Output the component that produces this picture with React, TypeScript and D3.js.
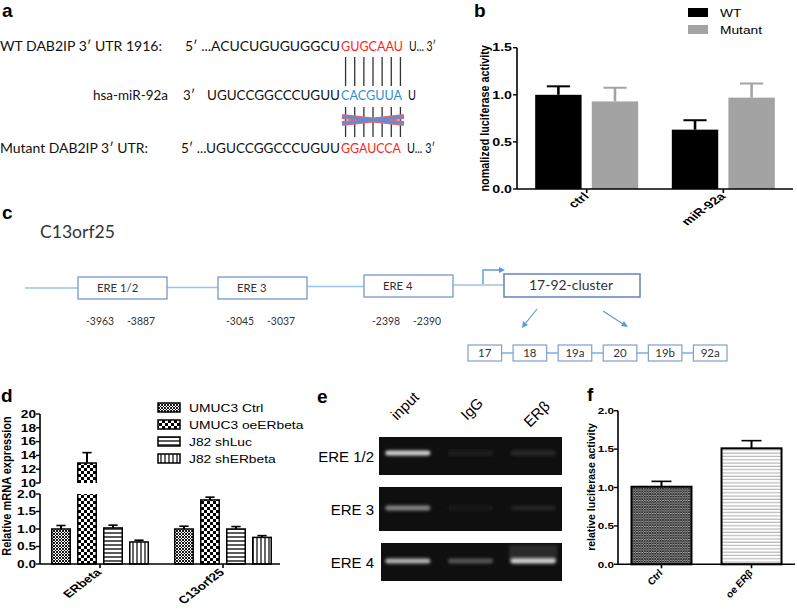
import React from 'react';
import * as d3 from 'd3';

const W = 797, H = 612;
const ARIAL = "'Liberation Sans', Arial, sans-serif";
const CAL = "Lato, 'Open Sans', sans-serif";

// ---------- Panel a data ----------
const wtLabel = 'WT DAB2IP 3′ UTR 1916:';
const mirLabel = 'hsa-miR-92a';
const mutLabel = 'Mutant DAB2IP 3′ UTR:';
const wtSeq = ['5′ ...ACUCUGUGUGGCU', 'GUGCAAU', 'U... 3′'];
const mirPrime = '3′';
const mirSeq = ['UGUCCGGCCCUGUU', 'CACGUUA', 'U'];
const mutSeq = ['5′ ...UGUCCGGCCCUGUU', 'GGAUCCA', 'U... 3′'];

// ---------- Panel b data ----------
const bCategories = ['ctrl', 'miR-92a'];
const bSeries = ['WT', 'Mutant'];
const bWT = [1.0, 0.63];
const bWTErr = [0.09, 0.1];
const bMutant = [0.93, 0.97];
const bMutantErr = [0.145, 0.15];
const bTicks = [0, 0.5, 1.0, 1.5];
const bYLabel = 'nomalized luciferase activity';

// ---------- Panel c data ----------
const cGene = 'C13orf25';
const ereBoxes = ['ERE 1/2', 'ERE 3', 'ERE 4'];
const erePositions = [['-3963', '-3887'], ['-3045', '-3037'], ['-2398', '-2390']];
const clusterName = '17-92-cluster';
const clusterMembers = ['17', '18', '19a', '20', '19b', '92a'];

// ---------- Panel d data ----------
const dCategories = ['ERbeta', 'C13orf25'];
const dSeries = ['UMUC3 Ctrl', 'UMUC3 oeERbeta', 'J82 shLuc', 'J82 shERbeta'];
const dUmucCtrl = [1.0, 1.0];
const dUmucCtrlErr = [0.1, 0.08];
const dUmucOe = [12.9, 1.83];
const dUmucOeErr = [1.5, 0.08];
const dJ82ShLuc = [1.03, 1.0];
const dJ82ShLucErr = [0.08, 0.07];
const dJ82ShER = [0.63, 0.76];
const dJ82ShERErr = [0.05, 0.05];
const dTicksLow = [0, 0.5, 1.0, 1.5, 2.0];
const dTicksHigh = [10, 12, 14, 16, 18, 20];
const dYLabel = 'Relative mRNA expression';

// ---------- Panel e data ----------
const gelRows = ['ERE 1/2', 'ERE 3', 'ERE 4'];
const gelLanes = ['input', 'IgG', 'ERβ'];
const gelIntensity = [
  [0.85, 0.035, 0.1],
  [0.5, 0.01, 0.05],
  [0.72, 0.28, 0.85],
];

// ---------- Panel f data ----------
const fCategories = ['Ctrl', 'oe ERβ'];
const fValues = [1.01, 1.51];
const fErr = [0.07, 0.1];
const fTicks = [0, 0.5, 1.0, 1.5, 2.0];
const fYLabel = 'relative luciferase activity';

function PText(props: any) {
  const { x, y, sx = 1, rot = 0, anchor = 'start', size = 10, weight = 'bold', style = 'normal', fill = '#000', dy, family = ARIAL, children } = props;
  return (
    <text
      transform={`translate(${x},${y}) scale(${sx},1) rotate(${rot})`}
      textAnchor={anchor}
      fontSize={size}
      fontWeight={weight}
      fontStyle={style}
      fill={fill}
      dy={dy}
      fontFamily={family}
    >
      {children}
    </text>
  );
}

function FitText(props: any) {
  const { x, y, w, size, fill = '#111', family = CAL, weight = 'normal', children } = props;
  return (
    <text x={x} y={y} textLength={w} lengthAdjust="spacingAndGlyphs" fontSize={size} fill={fill} fontFamily={family} fontWeight={weight}>
      {children}
    </text>
  );
}

function SeqLine({ y, segs }: any) {
  return (
    <text y={y} fontSize={14} fontFamily={CAL} fill="#111">
      {segs.map((s: any, i: number) => (
        <tspan key={i} x={s.x} textLength={s.w} lengthAdjust="spacingAndGlyphs" fill={s.fill || '#111'} fontSize={s.size || 14}>{s.t}</tspan>
      ))}
    </text>
  );
}

function PanelLetter({ x, y, t }: any) {
  return <text x={x} y={y} fontSize={19} fontWeight="bold" fontFamily={ARIAL}>{t}</text>;
}

function PanelA() {
  const seedX = 341, seedW = 64;
  const red = '#ff1f1f', blue = '#2f8fd8';
  const n = wtSeq[1].length;
  const lineXs = d3.range(n).map((i) => seedX + (i + 0.5) * (seedW / n));
  return (
    <g>
      <PanelLetter x={2} y={17} t="a" />
      <FitText x={0} y={51} w={162} size={14}>{wtLabel}</FitText>
      <SeqLine y={51} segs={[
        { x: 185, w: seedX - 186, t: wtSeq[0] },
        { x: seedX, w: seedW - 2, t: wtSeq[1], fill: red },
        { x: seedX + seedW + 4, w: 27, t: wtSeq[2] },
      ]} />

      {lineXs.map((lx, i) => (
        <line key={'u' + i} x1={lx} x2={lx} y1={57} y2={86} stroke="#333" strokeWidth={1.3} />
      ))}

      <FitText x={93} y={100} w={75} size={14}>{mirLabel}</FitText>
      <SeqLine y={100} segs={[
        { x: 183, w: 12, t: mirPrime },
        { x: 207, w: seedX - 208, t: mirSeq[0] },
        { x: seedX, w: seedW - 3, t: mirSeq[1], fill: blue },
        { x: seedX + seedW + 3, w: 8, t: mirSeq[2] },
      ]} />

      {lineXs.map((lx, i) => (
        <line key={'l' + i} x1={lx} x2={lx} y1={107} y2={137} stroke="#333" strokeWidth={1.3} />
      ))}
      <g>
        <line x1={seedX + 1} y1={116.5} x2={seedX + seedW - 1} y2={123.5} stroke="#e06878" strokeWidth={5} />
        <line x1={seedX + 1} y1={123.5} x2={seedX + seedW - 1} y2={116.5} stroke="#e06878" strokeWidth={5} />
        <line x1={seedX + 1} y1={116.5} x2={seedX + seedW - 1} y2={123.5} stroke="#5b8fd2" strokeWidth={2.6} />
        <line x1={seedX + 1} y1={123.5} x2={seedX + seedW - 1} y2={116.5} stroke="#5b8fd2" strokeWidth={2.6} />
      </g>

      <FitText x={0} y={153} w={148} size={14}>{mutLabel}</FitText>
      <SeqLine y={153} segs={[
        { x: 181, w: seedX - 182, t: mutSeq[0] },
        { x: seedX, w: seedW - 4, t: mutSeq[1], fill: red },
        { x: seedX + seedW + 2, w: 28, t: mutSeq[2] },
      ]} />
    </g>
  );
}

function PanelB() {
  const left = 517, right = 793, top = 47.7, bottom = 189;
  const sx = 1.35;
  const y = d3.scaleLinear().domain([0, 1.5]).range([bottom, top]);
  const x0 = d3.scalePoint<string>().domain(bCategories).range([left, right]).padding(0.51);
  const x1 = d3.scaleBand<string>().domain(bSeries).range([-51.5, 51.5]).paddingInner(0.18);
  const vals = [bWT, bMutant];
  const errs = [bWTErr, bMutantErr];
  const colors = ['#000000', '#a3a3a3'];
  const bw = x1.bandwidth();
  return (
    <g>
      <PanelLetter x={474} y={17} t="b" />
      {bSeries.map((s, i) => (
        <g key={s}>
          <rect x={688} y={8 + i * 17} width={20} height={9} fill={colors[i]} />
          <PText x={720} y={17 + i * 17} sx={1.25} size={11} weight="normal">{s}</PText>
        </g>
      ))}
      {bCategories.map((c, ci) =>
        bSeries.map((s, si) => {
          const cx = (x0(c) as number) + (x1(s) as number);
          const v = vals[si][ci];
          const e = errs[si][ci];
          const mid = cx + bw / 2;
          return (
            <g key={c + s}>
              <rect x={cx} y={y(v)} width={bw} height={bottom - y(v)} fill={colors[si]} />
              <line x1={mid} x2={mid} y1={y(v)} y2={y(v + e)} stroke={colors[si]} strokeWidth={2.6} />
              <line x1={mid - bw / 4} x2={mid + bw / 4} y1={y(v + e)} y2={y(v + e)} stroke={colors[si]} strokeWidth={2} />
            </g>
          );
        })
      )}
      <line x1={left} x2={left} y1={top} y2={bottom} stroke="#000" strokeWidth={1.6} />
      <line x1={left} x2={right} y1={bottom} y2={bottom} stroke="#000" strokeWidth={1.6} />
      {bTicks.map((t) => (
        <g key={t}>
          <line x1={left - 4} x2={left} y1={y(t)} y2={y(t)} stroke="#000" strokeWidth={1.4} />
          <PText x={left - 5} y={y(t)} dy="0.36em" anchor="end" sx={sx} size={10.5}>{t.toFixed(1)}</PText>
        </g>
      ))}
      {bCategories.map((c) => (
        <g key={c}>
          <line x1={x0(c)} x2={x0(c)} y1={bottom} y2={bottom + 4} stroke="#000" strokeWidth={1.6} />
          <PText x={(x0(c) as number) + 3} y={bottom + 8} anchor="end" rot={-45} sx={sx} size={10.5}>{c}</PText>
        </g>
      ))}
      <PText x={489} y={(top + bottom) / 2} anchor="middle" rot={-90} sx={1.15} size={10.8}>{bYLabel}</PText>
    </g>
  );
}

function PanelC() {
  const lineC = '#9dc3e6';
  const boxC = '#7f9fd0';
  const arrowC = '#5b9bd5';
  const boxX = [78, 218, 364];
  const boxY = [277, 277, 275];
  const boxW = 89, boxH = 22;
  const cl = { x: 504, y: 274, w: 136, h: 23 };
  const sub = d3.scaleBand<string>().domain(clusterMembers).range([468, 727]).paddingInner(0.255);
  const subY = 345, subH = 16;
  return (
    <g fontFamily={CAL}>
      <PanelLetter x={2} y={219} t="c" />
      <FitText x={40} y={238} w={75} size={17} fill="#333">{cGene}</FitText>
      <line x1={25} x2={boxX[0]} y1={boxY[0] + boxH / 2} y2={boxY[0] + boxH / 2} stroke={lineC} strokeWidth={1.5} />
      {ereBoxes.map((b, i) => {
        const nx = i < ereBoxes.length - 1 ? boxX[i + 1] : cl.x;
        const ny = i < ereBoxes.length - 1 ? boxY[i + 1] : cl.y;
        const yy = (boxY[i] + ny) / 2 + boxH / 2 - 0.5;
        return (
          <g key={b}>
            <line x1={boxX[i] + boxW} x2={nx} y1={yy} y2={yy} stroke={lineC} strokeWidth={1.5} />
            <rect x={boxX[i]} y={boxY[i]} width={boxW} height={boxH} fill="#fff" stroke={boxC} strokeWidth={1.4} />
            <FitText x={boxX[i] + 19} y={boxY[i] + 15} w={b.length * 5.9} size={11} fill="#333">{b}</FitText>
            <FitText x={boxX[i] + 8} y={325} w={28} size={11} fill="#333">{erePositions[i][0]}</FitText>
            <FitText x={boxX[i] + 49} y={325} w={28} size={11} fill="#333">{erePositions[i][1]}</FitText>
          </g>
        );
      })}
      <path d={`M483,284 V270 H500`} fill="none" stroke={arrowC} strokeWidth={1.4} />
      <path d="M499,267 L505,270 L499,273 Z" fill={arrowC} />
      <rect x={cl.x} y={cl.y} width={cl.w} height={cl.h} fill="#fff" stroke="#6a8cc0" strokeWidth={1.6} />
      <FitText x={529} y={cl.y + 16} w={84} size={14} fill="#333">{clusterName}</FitText>
      <line x1={537} y1={309} x2={525} y2={324} stroke={arrowC} strokeWidth={1.2} />
      <path d="M522,328 L523,321 L528,325 Z" fill={arrowC} />
      <line x1={603} y1={311} x2={623} y2={324} stroke={arrowC} strokeWidth={1.2} />
      <path d="M628,327 L621,326 L624,321 Z" fill={arrowC} />
      {clusterMembers.map((m, i) => {
        const xx = sub(m) as number;
        const next = i < clusterMembers.length - 1 ? (sub(clusterMembers[i + 1]) as number) : null;
        return (
          <g key={m}>
            {next !== null && (
              <line x1={xx + sub.bandwidth()} x2={next} y1={subY + subH / 2} y2={subY + subH / 2} stroke={arrowC} strokeWidth={1.2} />
            )}
            <rect x={xx} y={subY} width={sub.bandwidth()} height={subH} fill="#fff" stroke={boxC} strokeWidth={1.2} />
            <text x={xx + sub.bandwidth() / 2} y={subY + 12} textAnchor="middle" fontSize={11.5} fill="#333">{m}</text>
          </g>
        );
      })}
    </g>
  );
}

function PanelD() {
  const left = 40, right = 280, bottom = 564;
  const sx = 1.3;
  const yLow = d3.scaleLinear().domain([0, 2]).range([bottom, 494]);
  const yHigh = d3.scaleLinear().domain([10, 20]).range([483, 414]);
  const x0 = d3.scalePoint<string>().domain(dCategories).range([left, 283]).padding(0.488);
  const x1 = d3.scaleBand<string>().domain(dSeries).range([-48.25, 48.25]).paddingInner(0.29);
  const bw = x1.bandwidth();
  const vals = [dUmucCtrl, dUmucOe, dJ82ShLuc, dJ82ShER];
  const errs = [dUmucCtrlErr, dUmucOeErr, dJ82ShLucErr, dJ82ShERErr];
  const pats = ['url(#pCtrl)', 'url(#pOe)', 'url(#pH)', 'url(#pV)'];
  return (
    <g>
      <PanelLetter x={1} y={402} t="d" />
      {dSeries.map((s, i) => (
        <g key={s}>
          <rect x={158} y={403 + i * 17} width={22} height={9} fill={pats[i]} stroke="#000" strokeWidth={1.5} />
          <PText x={189} y={412 + i * 17} sx={1.28} size={10.8} weight="normal">{s}</PText>
        </g>
      ))}
      {dCategories.map((c, ci) =>
        dSeries.map((s, si) => {
          const bx = (x0(c) as number) + (x1(s) as number);
          const v = vals[si][ci];
          const e = errs[si][ci];
          const mid = bx + bw / 2;
          if (v <= 2) {
            return (
              <g key={c + s}>
                <line x1={mid} x2={mid} y1={yLow(v)} y2={yLow(v + e)} stroke="#000" strokeWidth={2} />
                <line x1={mid - bw / 4} x2={mid + bw / 4} y1={yLow(v + e)} y2={yLow(v + e)} stroke="#000" strokeWidth={1.6} />
                <rect x={bx} y={yLow(v)} width={bw} height={bottom - yLow(v)} fill={pats[si]} stroke="#000" strokeWidth={1.5} />
              </g>
            );
          }
          return (
            <g key={c + s}>
              <line x1={mid} x2={mid} y1={yHigh(v)} y2={yHigh(v + e)} stroke="#000" strokeWidth={2} />
              <line x1={mid - bw / 4} x2={mid + bw / 4} y1={yHigh(v + e)} y2={yHigh(v + e)} stroke="#000" strokeWidth={1.6} />
              <rect x={bx} y={yLow(2)} width={bw} height={bottom - yLow(2)} fill={pats[si]} />
              <path d={`M${bx},${yLow(2)} V${bottom} H${bx + bw} V${yLow(2)}`} fill="none" stroke="#000" strokeWidth={1.5} />
              <rect x={bx} y={yHigh(v)} width={bw} height={yHigh(10) - yHigh(v)} fill={pats[si]} />
              <path d={`M${bx},${yHigh(10)} V${yHigh(v)} H${bx + bw} V${yHigh(10)}`} fill="none" stroke="#000" strokeWidth={1.5} />
            </g>
          );
        })
      )}
      <line x1={left} x2={left} y1={yHigh(20)} y2={yHigh(10)} stroke="#000" strokeWidth={1.6} />
      <line x1={left} x2={left} y1={yLow(2)} y2={bottom} stroke="#000" strokeWidth={1.6} />
      <line x1={left} x2={right} y1={bottom} y2={bottom} stroke="#000" strokeWidth={1.6} />
      {dTicksHigh.map((t) => (
        <g key={'h' + t}>
          <line x1={left - 4} x2={left} y1={yHigh(t)} y2={yHigh(t)} stroke="#000" strokeWidth={1.4} />
          <PText x={left - 4} y={yHigh(t)} dy="0.36em" anchor="end" sx={sx} size={10.5}>{String(t)}</PText>
        </g>
      ))}
      {dTicksLow.map((t) => (
        <g key={'l' + t}>
          <line x1={left - 4} x2={left} y1={yLow(t)} y2={yLow(t)} stroke="#000" strokeWidth={1.4} />
          <PText x={left - 4} y={yLow(t)} dy="0.36em" anchor="end" sx={sx} size={10.5}>{t.toFixed(1)}</PText>
        </g>
      ))}
      {dCategories.map((c) => (
        <g key={c}>
          <line x1={x0(c)} x2={x0(c)} y1={bottom} y2={bottom + 4} stroke="#000" strokeWidth={1.6} />
          <PText x={(x0(c) as number) + 2} y={bottom + 9} anchor="end" rot={-45} sx={sx} size={10.5}>{c}</PText>
        </g>
      ))}
      <PText x={11} y={486} anchor="middle" rot={-90} sx={1.15} size={11}>{dYLabel}</PText>
    </g>
  );
}

function PanelE() {
  const gx0 = 379, gx1 = 562;
  const rowsY = [[437, 475], [487, 531], [543, 581]];
  const bandY = [453, 508, 561];
  const lane = d3.scaleBand<string>().domain(gelLanes).range([gx0, gx1]).paddingInner(0.28).paddingOuter(0.1);
  const labelPos = [[397, 421], [467, 421], [530, 428]];
  return (
    <g>
      <PanelLetter x={317} y={403} t="e" />
      {gelLanes.map((l, i) => (
        <text key={l} transform={`translate(${labelPos[i][0]},${labelPos[i][1]}) rotate(-45)`} fontSize={15} fontFamily={ARIAL}>{l}</text>
      ))}
      {gelRows.map((r, ri) => {
        const [y0, y1] = rowsY[ri];
        const by = bandY[ri];
        return (
          <g key={r}>
            <rect x={ri === 2 ? gx0 + 2 : gx0} y={y0} width={gx1 - gx0 - (ri === 2 ? 2 : 0)} height={y1 - y0} fill="#0f0f0f" />
            <text x={374} y={(y0 + y1) / 2 + 6} textAnchor="end" fontSize={15} fontFamily={ARIAL}>{r}</text>
            {gelLanes.map((l, li) => {
              const k = gelIntensity[ri][li];
              const cx = (lane(l) as number) + lane.bandwidth() / 2;
              const c = Math.round(22 + 220 * k);
              const col = `rgb(${c},${c},${c})`;
              return (
                <g key={l} filter="url(#blurBand)">
                  {ri === 2 && li === 2 && (
                    <rect x={cx - 24} y={by - 16} width={48} height={16} fill="#3a3a3a" opacity={0.6} />
                  )}
                  <rect x={cx - lane.bandwidth() / 2} y={by - 2.5} width={lane.bandwidth()} height={5} rx={2.5} fill={col} />
                </g>
              );
            })}
          </g>
        );
      })}
    </g>
  );
}

function PanelF() {
  const left = 618, right = 795, bottom = 564.3, top = 410.7;
  const sx = 1.3;
  const y = d3.scaleLinear().domain([0, 2]).range([bottom, top]);
  const x = d3.scalePoint<string>().domain(fCategories).range([left, right]).padding(0.483);
  const bw = 60;
  const pats = ['url(#pFCtrl)', 'url(#pFH)'];
  return (
    <g>
      <PanelLetter x={587} y={401} t="f" />
      {fCategories.map((c, i) => {
        const cx = x(c) as number;
        const v = fValues[i];
        const e = fErr[i];
        return (
          <g key={c}>
            <line x1={cx} x2={cx} y1={y(v)} y2={y(v + e)} stroke="#000" strokeWidth={2} />
            <line x1={cx - 10} x2={cx + 10} y1={y(v + e)} y2={y(v + e)} stroke="#000" strokeWidth={1.6} />
            <rect x={cx - bw / 2} y={y(v)} width={bw} height={bottom - y(v)} fill={pats[i]} stroke="#000" strokeWidth={2} />
          </g>
        );
      })}
      <line x1={left} x2={left} y1={top} y2={bottom} stroke="#000" strokeWidth={1.6} />
      <line x1={left} x2={right} y1={bottom} y2={bottom} stroke="#000" strokeWidth={1.6} />
      {fTicks.map((t) => (
        <g key={t}>
          <line x1={left - 4} x2={left} y1={y(t)} y2={y(t)} stroke="#000" strokeWidth={1.4} />
          <PText x={left - 4} y={y(t)} dy="0.36em" anchor="end" sx={sx} size={9}>{t.toFixed(1)}</PText>
        </g>
      ))}
      {fCategories.map((c) => (
        <g key={c}>
          <line x1={x(c)} x2={x(c)} y1={bottom} y2={bottom + 4} stroke="#000" strokeWidth={1.6} />
          <PText x={(x(c) as number) + 2} y={bottom + 9} anchor="end" rot={-50} sx={1.1} size={9.5} style="italic">{c}</PText>
        </g>
      ))}
      <PText x={595} y={487} anchor="middle" rot={-90} sx={1.1} size={10.5}>{fYLabel}</PText>
    </g>
  );
}

export default function App() {
  return (
    <svg width={W} height={H} viewBox={`0 0 ${W} ${H}`} style={{ position: 'absolute', left: 0, top: 0, background: '#fff' }}>
      <defs>
        <pattern id="pCtrl" width={3} height={3} patternUnits="userSpaceOnUse">
          <rect width={3} height={3} fill="#fff" />
          <path d="M0,0 L3,3 M3,0 L0,3" stroke="#000" strokeWidth={0.9} />
        </pattern>
        <pattern id="pOe" width={6} height={6} patternUnits="userSpaceOnUse">
          <rect width={6} height={6} fill="#fff" />
          <rect x={0} y={0} width={3} height={3} fill="#000" />
          <rect x={3} y={3} width={3} height={3} fill="#000" />
        </pattern>
        <pattern id="pH" width={4} height={4} patternUnits="userSpaceOnUse">
          <rect width={4} height={4} fill="#fff" />
          <line x1={0} x2={4} y1={1} y2={1} stroke="#000" strokeWidth={1.3} />
        </pattern>
        <pattern id="pV" width={4} height={4} patternUnits="userSpaceOnUse">
          <rect width={4} height={4} fill="#fff" />
          <line x1={1} x2={1} y1={0} y2={4} stroke="#000" strokeWidth={1.2} />
        </pattern>
        <pattern id="pFCtrl" width={2.6} height={2.6} patternUnits="userSpaceOnUse">
          <rect width={2.6} height={2.6} fill="#ddd" />
          <path d="M0,0 L2.6,2.6 M2.6,0 L0,2.6" stroke="#222" strokeWidth={0.9} />
        </pattern>
        <pattern id="pFH" width={4} height={3.3} patternUnits="userSpaceOnUse">
          <rect width={4} height={3.3} fill="#fff" />
          <line x1={0} x2={4} y1={1} y2={1} stroke="#888" strokeWidth={0.8} />
        </pattern>
        <filter id="blurBand" x="-50%" y="-300%" width="200%" height="700%">
          <feGaussianBlur stdDeviation={1.8} />
        </filter>
      </defs>
      <rect width={W} height={H} fill="#fff" />
      <PanelA />
      <PanelB />
      <PanelC />
      <PanelD />
      <PanelE />
      <PanelF />
    </svg>
  );
}
